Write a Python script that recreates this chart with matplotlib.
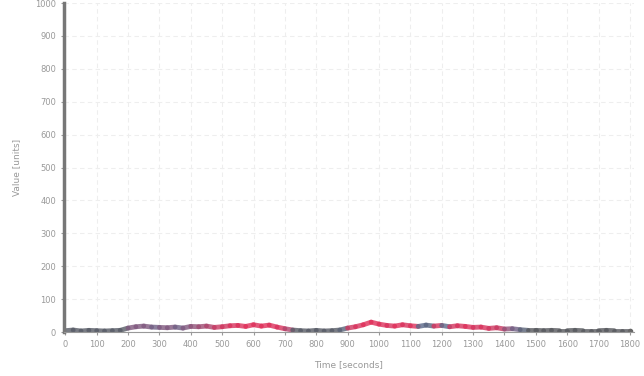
import numpy as np
import matplotlib
matplotlib.use("Agg")
import matplotlib.pyplot as plt
from matplotlib.collections import LineCollection
from matplotlib.colors import LinearSegmentedColormap

# sampled every 25 s
time_s = np.arange(0, 1801, 25)
values = [
    4, 6, 3, 5, 4, 3, 4, 5,                      # 0 - 175
    12, 16, 18, 15, 14, 13, 15, 12, 17,          # 200 - 400
    16, 18, 14, 16, 19,                          # 425 - 525
    20, 17, 22, 18, 21, 15, 10,                  # 550 - 700
    6, 4, 3, 5, 3, 4, 6,                         # 725 - 875
    12, 16, 22, 30, 24, 20, 18, 22, 19, 17, 21,  # 900 - 1150
    18, 20, 16, 19, 17, 14, 15, 11, 13, 9, 10,   # 1175 - 1425
    7, 5, 5, 4, 5, 4, 4, 5, 4, 4, 4, 5, 4, 4, 4,  # 1450 - 1800
]
tone = [
    0.1, 0.1, 0.1, 0.1, 0.1, 0.1, 0.1, 0.1,
    0.45, 0.45, 0.45, 0.4, 0.45, 0.45, 0.4, 0.45, 0.5,
    0.55, 0.6, 0.7, 0.8, 0.9,
    0.95, 1.0, 0.95, 1.0, 0.95, 0.9, 0.6,
    0.1, 0.1, 0.1, 0.1, 0.1, 0.1, 0.2,
    0.8, 0.9, 1.0, 1.0, 0.95, 0.9, 1.0, 0.9, 0.95, 0.3, 0.25,
    0.9, 0.3, 0.85, 0.9, 0.95, 0.85, 0.9, 0.8, 0.7, 0.5, 0.4,
    0.2, 0.05, 0.05, 0.05, 0.05, 0.05, 0.05, 0.05, 0.05, 0.05, 0.05, 0.05, 0.05, 0.05, 0.05,
]
x_ticks = np.arange(0, 1801, 100)
y_ticks = np.arange(0, 1001, 100)

cmap = LinearSegmentedColormap.from_list(
    "tone", ["#555555", "#5b6a8e", "#c43a63", "#e0305a"])

fig = plt.figure(figsize=(6.44, 3.76), dpi=100)
ax = fig.add_axes([0.099, 0.117, 0.885, 0.875])

pts = np.column_stack([time_s, values]).reshape(-1, 1, 2)
segs = np.concatenate([pts[:-1], pts[1:]], axis=1)
lc = LineCollection(segs, cmap=cmap, linewidths=3.5, alpha=0.8, capstyle="round")
lc.set_array(np.asarray(tone[:-1]))
lc.set_clim(0, 1)
ax.add_collection(lc)
ax.plot(time_s[-1], values[-1], "o", color="#666666", ms=3)

ax.set_xlim(-5, 1812)
ax.set_ylim(0, 1000)
ax.set_xticks(x_ticks)
ax.set_yticks(y_ticks)
ax.grid(True, color="#eeeeee", linewidth=0.8, linestyle=(0, (4, 3)))
ax.set_axisbelow(True)

for side in ("top", "right"):
    ax.spines[side].set_visible(False)
ax.spines["left"].set_color("#777777")
ax.spines["left"].set_linewidth(2.5)
ax.spines["bottom"].set_color("#999999")
ax.spines["bottom"].set_linewidth(0.8)

ax.tick_params(axis="both", labelsize=6, colors="#999999", length=2)
ax.set_xlabel("Time [seconds]", fontsize=6.5, color="#999999", labelpad=8)
ax.set_ylabel("Value [units]", fontsize=6.5, color="#999999", labelpad=10)

fig.savefig("out.png", dpi=100)
